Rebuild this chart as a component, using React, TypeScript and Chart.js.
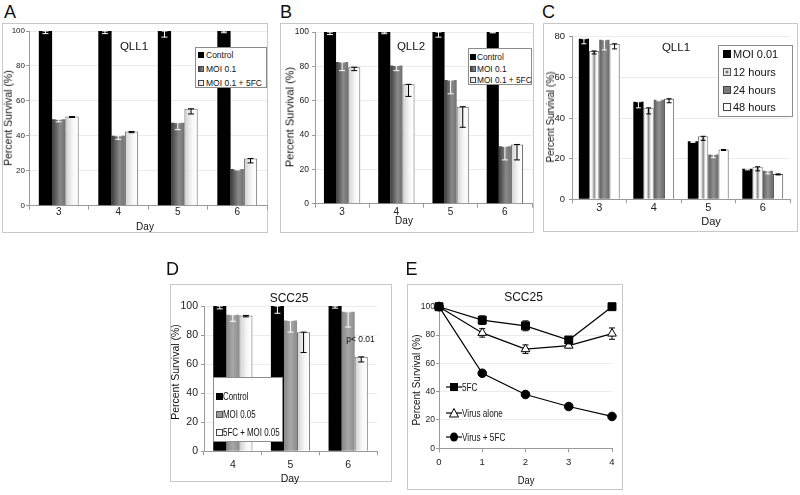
import React, { useEffect, useRef } from 'react';
import { Chart, registerables } from 'chart.js';
Chart.register(...registerables);

const FONT = '"Liberation Sans", Arial, Helvetica, sans-serif';

// ---------- Panel A : QLL1 ----------
const daysA = ['3', '4', '5', '6'];
const aControl = [100, 100, 100, 100];
const aControlErr = [1.5, 1.5, 3.5, 1];
const aMoi = [49.5, 40, 47.5, 21];
const aMoiErr = [1.5, 2, 4, 0.5];
const aMoi5fc = [51, 42.5, 55.5, 27];
const aMoi5fcErr = [0.5, 0.7, 3, 2.5];

// ---------- Panel B : QLL2 ----------
const daysB = ['3', '4', '5', '6'];
const bControl = [100, 100, 100, 100];
const bControlErr = [1.5, 1, 3, 0.5];
const bMoi = [82.5, 80.5, 72, 33.5];
const bMoiErr = [5, 3, 8, 8];
const bMoi5fc = [79.5, 69.5, 56.5, 34.5];
const bMoi5fcErr = [2, 7, 12, 9];

// ---------- Panel C : QLL1 time course ----------
const daysC = ['3', '4', '5', '6'];
const cMoi001 = [79, 48, 28.5, 15];
const cMoi001Err = [2.5, 3, 0.5, 0.5];
const c12h = [73, 45, 31, 16];
const c12hErr = [1.5, 3, 2, 2];
const c24h = [78.5, 49, 22, 14];
const c24hErr = [5, 0.5, 1.5, 1.5];
const c48h = [76.5, 49.5, 24.5, 12.5];
const c48hErr = [2.5, 2, 0.5, 0.5];

// ---------- Panel D : SCC25 ----------
const daysD = ['4', '5', '6'];
const dControl = [100, 100, 100];
const dControlErr = [2, 5, 1.5];
const dMoi = [94, 90, 96];
const dMoiErr = [4.5, 8, 10.5];
const d5fcMoi = [93.5, 82, 65];
const d5fcMoiErr = [1, 14, 3.5];

// ---------- Panel E : SCC25 line ----------
const eDays = [0, 1, 2, 3, 4];
const e5fc = [100, 90.5, 86.5, 76.5, 100];
const e5fcErr = [1, 3, 3.5, 1, 1];
const eVirus = [100, 81.5, 70, 72.5, 81];
const eVirusErr = [1, 3, 3, 1.5, 4];
const eVirus5fc = [100, 53, 38, 29.5, 22.5];
const eVirus5fcErr = [0, 1.5, 1, 1, 1];

type Stops = [number, string][];
const GRAY_STOPS: Stops = [[0, '#3d3d3d'], [0.6, '#8a8a8a'], [1, '#707070']];
const LIGHT_STOPS: Stops = [[0, '#d0d0d0'], [0.6, '#f8f8f8'], [1, '#ffffff']];
const D_GRAY_STOPS: Stops = [[0, '#868686'], [0.5, '#a8a8a8'], [1, '#8c8c8c']];
const C12_STOPS: Stops = [[0, '#ffffff'], [0.3, '#f4f4f4'], [0.5, '#8a8a8a'], [0.7, '#f4f4f4'], [1, '#ffffff']];
const C24_STOPS: Stops = [[0, '#5e5e5e'], [0.5, '#909090'], [1, '#6a6a6a']];

function barGrad(stops: Stops) {
  return (ctx: any) => {
    const chart = ctx.chart;
    const xs = chart.scales && chart.scales.x;
    const fallback = stops[Math.floor(stops.length / 2)][1];
    if (ctx.type !== 'data' || !xs || !xs.width) return fallback;
    const n = chart.data.labels.length;
    const nd = chart.data.datasets.length;
    const ds = chart.data.datasets[ctx.datasetIndex];
    const group = (xs.width / n) * (ds.categoryPercentage ?? 0.8);
    const w = group / nd;
    const left = xs.getPixelForValue(ctx.dataIndex) - group / 2 + w * ctx.datasetIndex;
    const g = chart.ctx.createLinearGradient(left, 0, left + w, 0);
    for (const [o, c] of stops) g.addColorStop(o, c);
    return g;
  };
}

function drawErrors(chart: any) {
  const ctx = chart.ctx;
  const y = chart.scales.y;
  chart.data.datasets.forEach((ds: any, di: number) => {
    if (!ds.errors) return;
    const meta = chart.getDatasetMeta(di);
    meta.data.forEach((el: any, i: number) => {
      const e = ds.errors[i];
      if (!e) return;
      const raw = ds.data[i];
      const v = typeof raw === 'number' ? raw : raw.y;
      const yTop = y.getPixelForValue(ds.errMode === 'minus' ? v : v + e);
      const yBot = y.getPixelForValue(v - e);
      const cap = ds.errCap ?? 3;
      ctx.save();
      ctx.strokeStyle = ds.errColor;
      ctx.lineWidth = 1;
      ctx.beginPath();
      ctx.moveTo(el.x, yTop); ctx.lineTo(el.x, yBot);
      ctx.moveTo(el.x - cap, yTop); ctx.lineTo(el.x + cap, yTop);
      ctx.moveTo(el.x - cap, yBot); ctx.lineTo(el.x + cap, yBot);
      ctx.stroke();
      ctx.restore();
    });
  });
}

const errPlugin = {
  id: 'errBars',
  beforeDatasetsDraw(chart: any) { if (chart.config.type === 'line') drawErrors(chart); },
  afterDatasetsDraw(chart: any) { if (chart.config.type === 'bar') drawErrors(chart); },
};

type BarDS = { label: string; data: number[]; errors: number[]; fill: any; border?: string; errColor: string };
type Lay = {
  w: number; h: number; left: number; top: number; right: number; bottom: number;
  catPct: number; yMax: number; yFont: number; xFont: number; yPad: number; xPad: number; cap: number;
};

function barConfig(labels: string[], sets: BarDS[], L: Lay) {
  return {
    type: 'bar',
    data: {
      labels,
      datasets: sets.map((d) => ({
        label: d.label, data: d.data, errors: d.errors, errColor: d.errColor, errMode: 'minus', errCap: L.cap,
        backgroundColor: d.fill, borderColor: d.border ?? 'rgba(0,0,0,0)', borderWidth: d.border ? 1 : 0,
        categoryPercentage: L.catPct, barPercentage: 1,
      })),
    },
    options: {
      animation: false, responsive: false, maintainAspectRatio: false,
      layout: { padding: { left: 0, top: L.top, right: L.w - L.right, bottom: 0 } },
      plugins: { legend: { display: false }, tooltip: { enabled: false }, title: { display: false } },
      scales: {
        x: {
          grid: { display: true, drawOnChartArea: false, drawTicks: true, tickLength: 4, color: '#9a9a9a' },
          border: { color: '#9a9a9a' },
          ticks: { font: { family: FONT, size: L.xFont }, color: '#222', padding: L.xPad },
          afterFit: (s: any) => { s.height = L.h - L.bottom; },
        },
        y: {
          min: 0, max: L.yMax,
          ticks: { stepSize: 20, font: { family: FONT, size: L.yFont }, color: '#222', padding: L.yPad },
          grid: { color: '#ececec', tickColor: '#9a9a9a', tickLength: 3 },
          border: { color: '#9a9a9a' },
          afterFit: (s: any) => { s.width = L.left; },
        },
      },
    },
    plugins: [errPlugin],
  };
}

function lineConfig() {
  const L = { w: 216, h: 206, left: 32, top: 22.7, right: 205, bottom: 164.3 };
  const pts = (arr: number[]) => eDays.map((d, i) => ({ x: d, y: arr[i] }));
  const base = { borderColor: '#000', borderWidth: 1.2, tension: 0, clip: false as any, errColor: '#000', errMode: 'both', errCap: 3 };
  return {
    type: 'line',
    data: {
      datasets: [
        { ...base, label: '5FC', data: pts(e5fc), errors: e5fcErr, pointStyle: 'rect', pointRadius: 5.6, pointBackgroundColor: '#000', pointBorderColor: '#000', pointBorderWidth: 1 },
        { ...base, label: 'Virus alone', data: pts(eVirus), errors: eVirusErr, pointStyle: 'triangle', pointRadius: 5, pointBackgroundColor: '#fff', pointBorderColor: '#000', pointBorderWidth: 1 },
        { ...base, label: 'Virus + 5FC', data: pts(eVirus5fc), errors: eVirus5fcErr, pointStyle: 'circle', pointRadius: 4.3, pointBackgroundColor: '#000', pointBorderColor: '#000', pointBorderWidth: 1 },
      ],
    },
    options: {
      animation: false, responsive: false, maintainAspectRatio: false,
      layout: { padding: { left: 0, top: L.top, right: L.w - L.right, bottom: 0 } },
      plugins: { legend: { display: false }, tooltip: { enabled: false } },
      scales: {
        x: {
          type: 'linear', min: 0, max: 4,
          ticks: { stepSize: 1, font: { family: FONT, size: 9.5 }, color: '#222', padding: 4 },
          grid: { display: true, drawOnChartArea: false, tickLength: 4, color: '#9a9a9a' },
          border: { color: '#9a9a9a' },
          afterFit: (s: any) => { s.height = L.h - L.bottom; },
        },
        y: {
          min: 0, max: 100,
          ticks: { stepSize: 20, font: { family: FONT, size: 8.5 }, color: '#222', padding: 1 },
          grid: { color: '#ececec', tickColor: '#9a9a9a', tickLength: 3 },
          border: { color: '#9a9a9a' },
          afterFit: (s: any) => { s.width = L.left; },
        },
      },
    },
    plugins: [errPlugin],
  };
}

function ChartBox({ rect, config }: { rect: [number, number, number, number]; config: () => any }) {
  const ref = useRef<HTMLCanvasElement>(null);
  useEffect(() => {
    const chart = new Chart(ref.current as HTMLCanvasElement, config());
    return () => chart.destroy();
  }, []);
  const [l, t, w, h] = rect;
  return <canvas ref={ref} width={w} height={h} style={{ position: 'absolute', left: l, top: t, width: w, height: h }} />;
}

function Frame({ l, t, w, h }: { l: number; t: number; w: number; h: number }) {
  return <div style={{ position: 'absolute', left: l, top: t, width: w, height: h, border: '1px solid #c8c8c8', boxSizing: 'border-box' }} />;
}

function CTxt({ x, y, size, rot = 0, sx = 1, children }: any) {
  return (
    <div style={{ position: 'absolute', left: x, top: y, transform: `translate(-50%,-50%) rotate(${rot}deg) scaleX(${sx})`, fontFamily: FONT, fontSize: size, lineHeight: 1, whiteSpace: 'nowrap', color: '#111' }}>
      {children}
    </div>
  );
}

function LTxt({ x, y, size, sx = 1, children }: any) {
  return (
    <div style={{ position: 'absolute', left: x, top: y, transform: `translateY(-50%) scaleX(${sx})`, transformOrigin: 'left center', fontFamily: FONT, fontSize: size, lineHeight: 1, whiteSpace: 'nowrap', color: '#111' }}>
      {children}
    </div>
  );
}

function Sw({ x, y, size, bg, border }: any) {
  return <div style={{ position: 'absolute', left: x, top: y - size / 2, width: size, height: size, background: bg, border: border ? `1px solid ${border}` : 'none', boxSizing: 'border-box' }} />;
}

function Box({ l, t, w, h }: any) {
  return <div style={{ position: 'absolute', left: l, top: t, width: w, height: h, background: '#fff', border: '1px solid #8c8c8c', boxSizing: 'border-box' }} />;
}

function ESym({ x, y, kind }: any) {
  return (
    <svg style={{ position: 'absolute', left: x, top: y - 6 }} width={16} height={12}>
      <line x1={0} y1={6} x2={16} y2={6} stroke="#000" strokeWidth={1.2} />
      {kind === 'sq' && <rect x={4} y={2} width={8} height={8} fill="#000" />}
      {kind === 'tri' && <polygon points="8,1.5 12.5,10 3.5,10" fill="#fff" stroke="#000" strokeWidth={1} />}
      {kind === 'dot' && <ellipse cx={8} cy={6} rx={4} ry={4.5} fill="#000" />}
    </svg>
  );
}

const SW_GRAY = 'linear-gradient(90deg,#444,#8c8c8c)';
const SW_LIGHT = 'linear-gradient(90deg,#d8d8d8,#fff)';

export default function App() {
  const cfgA = () => barConfig(daysA, [
    { label: 'Control', data: aControl, errors: aControlErr, fill: '#000', errColor: '#fff' },
    { label: 'MOI 0.1', data: aMoi, errors: aMoiErr, fill: barGrad(GRAY_STOPS), errColor: '#fff' },
    { label: 'MOI 0.1 + 5FC', data: aMoi5fc, errors: aMoi5fcErr, fill: barGrad(LIGHT_STOPS), border: '#666', errColor: '#000' },
  ], { w: 266, h: 210, left: 27, top: 8, right: 265, bottom: 182.7, catPct: 0.67, yMax: 100, yFont: 8, xFont: 10, yPad: 1, xPad: -3.5, cap: 3 });

  const cfgB = () => barConfig(daysB, [
    { label: 'Control', data: bControl, errors: bControlErr, fill: '#000', errColor: '#fff' },
    { label: 'MOI 0.1', data: bMoi, errors: bMoiErr, fill: barGrad(GRAY_STOPS), errColor: '#fff' },
    { label: 'MOI 0.1 + 5FC', data: bMoi5fc, errors: bMoi5fcErr, fill: barGrad(LIGHT_STOPS), border: '#666', errColor: '#000' },
  ], { w: 254, h: 210, left: 35, top: 9, right: 252, bottom: 180.7, catPct: 0.67, yMax: 100, yFont: 8.5, xFont: 10, yPad: 3, xPad: -1.7, cap: 3 });

  const cfgC = () => barConfig(daysC, [
    { label: 'MOI 0.01', data: cMoi001, errors: cMoi001Err, fill: '#000', errColor: '#fff' },
    { label: '12 hours', data: c12h, errors: c12hErr, fill: barGrad(C12_STOPS), border: '#777', errColor: '#000' },
    { label: '24 hours', data: c24h, errors: c24hErr, fill: barGrad(C24_STOPS), errColor: '#fff' },
    { label: '48 hours', data: c48h, errors: c48hErr, fill: '#fff', border: '#555', errColor: '#000' },
  ], { w: 255, h: 209, left: 29, top: 13.7, right: 247, bottom: 176.3, catPct: 0.75, yMax: 80, yFont: 9.5, xFont: 11, yPad: 4, xPad: -1.9, cap: 2.5 });

  const cfgD = () => barConfig(daysD, [
    { label: 'Control', data: dControl, errors: dControlErr, fill: '#000', errColor: '#fff' },
    { label: 'MOI 0.05', data: dMoi, errors: dMoiErr, fill: barGrad(D_GRAY_STOPS), errColor: '#fff' },
    { label: '5FC + MOI 0.05', data: d5fcMoi, errors: d5fcMoiErr, fill: barGrad(LIGHT_STOPS), border: '#666', errColor: '#000' },
  ], { w: 222, h: 198, left: 34, top: 22, right: 207, bottom: 167.3, catPct: 0.68, yMax: 100, yFont: 10.5, xFont: 10.5, yPad: 3, xPad: 3.4, cap: 3 });

  return (
    <div style={{ position: 'fixed', left: 0, top: 0, width: 800, height: 495, background: '#fff', overflow: 'hidden' }}>
      {/* Panel A */}
      <Frame l={2} t={23} w={266} h={210} />
      <ChartBox rect={[2, 23, 266, 210]} config={cfgA} />
      <CTxt x={10} y={11.5} size={18}>A</CTxt>
      <CTxt x={134} y={47} size={11.5}>QLL1</CTxt>
      <CTxt x={8} y={118} size={10.5} rot={-90}>Percent Survival (%)</CTxt>
      <CTxt x={145} y={227} size={10}>Day</CTxt>
      <Box l={195} t={47} w={72} h={41} />
      <Sw x={198} y={55} size={6} bg="#000" />
      <LTxt x={206} y={55} size={8.5}>Control</LTxt>
      <Sw x={198} y={69} size={6} bg={SW_GRAY} border="#444" />
      <LTxt x={206} y={69} size={8.5}>MOI 0.1</LTxt>
      <Sw x={198} y={82.5} size={6} bg={SW_LIGHT} border="#444" />
      <LTxt x={206} y={82.5} size={8.5}>MOI 0.1 + 5FC</LTxt>

      {/* Panel B */}
      <Frame l={280} t={23} w={254} h={210} />
      <ChartBox rect={[280, 23, 254, 210]} config={cfgB} />
      <CTxt x={286} y={11.5} size={18}>B</CTxt>
      <CTxt x={411} y={47} size={11.5}>QLL2</CTxt>
      <CTxt x={290} y={117} size={11} rot={-90}>Percent Survival (%)</CTxt>
      <CTxt x={404} y={221} size={10}>Day</CTxt>
      <Box l={468} t={48} w={64} h={37} />
      <Sw x={470} y={56.5} size={6} bg="#000" />
      <LTxt x={477} y={56.5} size={8.3}>Control</LTxt>
      <Sw x={470} y={68.5} size={6} bg={SW_GRAY} border="#444" />
      <LTxt x={477} y={68.5} size={8.3}>MOI 0.1</LTxt>
      <Sw x={470} y={80} size={6} bg={SW_LIGHT} border="#444" />
      <LTxt x={477} y={80} size={8.3}>MOI 0.1 + 5FC</LTxt>

      {/* Panel C */}
      <Frame l={543} t={23} w={255} h={209} />
      <ChartBox rect={[543, 23, 255, 209]} config={cfgC} />
      <CTxt x={548.5} y={11.5} size={18}>C</CTxt>
      <CTxt x={676} y={48} size={11.5}>QLL1</CTxt>
      <CTxt x={550.5} y={117} size={10} rot={-90}>Percent Survival (%)</CTxt>
      <CTxt x={711} y={221} size={11}>Day</CTxt>
      <Box l={718} t={45} w={75} h={72} />
      <Sw x={723} y={54} size={8} bg="#000" />
      <LTxt x={733} y={54} size={11}>MOI 0.01</LTxt>
      <Sw x={723} y={72} size={8} bg="radial-gradient(circle,#777 0 25%,#e8e8e8 45%)" border="#555" />
      <LTxt x={733} y={72} size={11}>12 hours</LTxt>
      <Sw x={723} y={89.5} size={8} bg="#7a7a7a" border="#444" />
      <LTxt x={733} y={89.5} size={11}>24 hours</LTxt>
      <Sw x={723} y={107} size={8} bg="#fff" border="#444" />
      <LTxt x={733} y={107} size={11}>48 hours</LTxt>

      {/* Panel D */}
      <Frame l={170} t={284} w={222} h={198} />
      <ChartBox rect={[170, 284, 222, 198]} config={cfgD} />
      <CTxt x={172.5} y={268.5} size={18}>D</CTxt>
      <CTxt x={289} y={298} size={12}>SCC25</CTxt>
      <CTxt x={175} y={372} size={10.5} rot={-90}>Percent Survival (%)</CTxt>
      <CTxt x={290} y={478} size={10.5}>Day</CTxt>
      <CTxt x={360.5} y={339} size={8.5}>p&lt; 0.01</CTxt>
      <Box l={213} t={377} w={70} h={65} />
      <Sw x={215.5} y={396} size={7} bg="#000" />
      <LTxt x={223} y={396} size={11} sx={0.72}>Control</LTxt>
      <Sw x={215.5} y={414} size={7} bg="#9a9a9a" border="#555" />
      <LTxt x={223} y={414} size={11} sx={0.72}>MOI 0.05</LTxt>
      <Sw x={215.5} y={432} size={7} bg="#fff" border="#444" />
      <LTxt x={223} y={432} size={11} sx={0.72}>5FC + MOI 0.05</LTxt>

      {/* Panel E */}
      <Frame l={407} t={284} w={216} h={206} />
      <ChartBox rect={[407, 284, 216, 206]} config={lineConfig} />
      <CTxt x={411.5} y={268.5} size={18}>E</CTxt>
      <CTxt x={523.5} y={297} size={12}>SCC25</CTxt>
      <CTxt x={417} y={380} size={10} rot={-90}>Percent Survival (%)</CTxt>
      <CTxt x={526} y={480} size={11} sx={0.85}>Day</CTxt>
      <ESym x={446} y={387} kind="sq" />
      <LTxt x={462} y={387} size={10.5} sx={0.78}>5FC</LTxt>
      <ESym x={446} y={413} kind="tri" />
      <LTxt x={462} y={413} size={10.5} sx={0.78}>Virus alone</LTxt>
      <ESym x={446} y={437} kind="dot" />
      <LTxt x={462} y={437} size={10.5} sx={0.78}>Virus + 5FC</LTxt>
    </div>
  );
}
